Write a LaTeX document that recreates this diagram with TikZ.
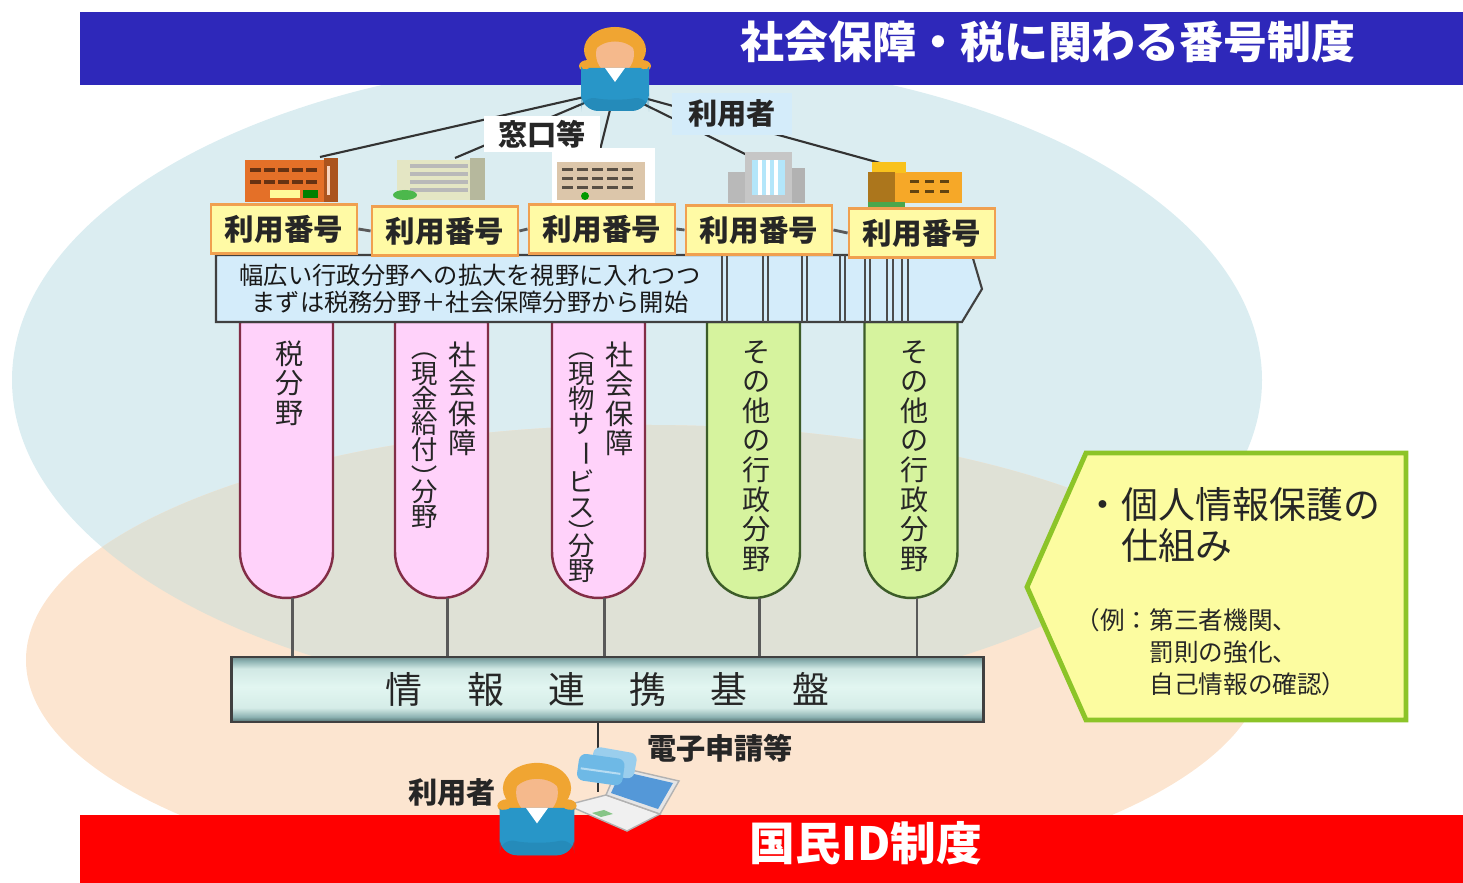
\documentclass[tikz,border=0pt]{standalone}
\usepackage{fontspec}
\setmainfont{Noto Sans CJK JP}
\usetikzlibrary{positioning, calc}

\definecolor{barblue}{RGB}{46,40,186}
\definecolor{barred}{RGB}{255,0,0}
\definecolor{skyfill}{RGB}{219,237,241}
\definecolor{peachfill}{RGB}{252,229,208}
\definecolor{mixfill}{RGB}{223,225,214}
\definecolor{numfill}{RGB}{255,250,165}
\definecolor{numedge}{RGB}{240,160,80}
\definecolor{bandfill}{RGB}{212,236,250}
\definecolor{pinkfill}{RGB}{255,210,250}
\definecolor{pinkedge}{RGB}{130,45,70}
\definecolor{leaffill}{RGB}{214,243,158}
\definecolor{leafedge}{RGB}{60,92,40}
\definecolor{notefill}{RGB}{252,252,160}
\definecolor{noteedge}{RGB}{140,196,40}
\definecolor{hubtop}{RGB}{140,178,178}
\definecolor{hubmid}{RGB}{226,246,241}
\definecolor{hubbot}{RGB}{80,110,110}
\definecolor{hair}{RGB}{240,165,50}
\definecolor{skin}{RGB}{245,185,140}
\definecolor{shirt}{RGB}{40,150,200}
\definecolor{brick}{RGB}{228,112,40}
\definecolor{stone}{RGB}{228,230,196}
\definecolor{sand}{RGB}{220,198,170}
\definecolor{amber}{RGB}{246,168,40}
\definecolor{cardblue}{RGB}{110,185,230}

\pgfdeclareverticalshading{hubshade}{100bp}{color(0bp)=(hubbot); color(25bp)=(hubbot);
  color(29bp)=(hubtop); color(36bp)=(hubmid!85!hubtop); color(52bp)=(hubmid);
  color(66bp)=(hubmid!80!hubtop); color(72bp)=(hubtop); color(75bp)=(hubtop!80!black); color(100bp)=(hubtop!80!black)}

\newcommand\vp[1]{\rotatebox[origin=c]{-90}{#1}}

\begin{document}
\begin{tikzpicture}[x=0.01cm, y=-0.01cm,
  every node/.style={inner sep=0pt, text=black!85},
  bar/.style  = {text=white, font=\bfseries\fontsize{12.5}{14}\selectfont},
  num/.style  = {draw=numedge, fill=numfill, line width=0.8pt, minimum width=1.46cm, minimum height=0.49cm, font=\bfseries\fontsize{8.4}{10}\selectfont},
  tag/.style  = {minimum height=0.36cm, font=\bfseries\fontsize{8.3}{10}\selectfont},
  hub/.style  = {draw=black!75, line width=0.8pt, minimum width=7.51cm, minimum height=0.65cm, shading=hubshade, font=\fontsize{10.5}{12}\selectfont},
  wire/.style = {line width=0.6pt, black!80},
  link/.style = {line width=0.8pt, gray!70!black},
  vcol/.style = {anchor=north, align=center, font=\fontsize{8}{8.4}\selectfont},
  vsub/.style = {anchor=north, align=center, font=\fontsize{7.5}{7.2}\selectfont},
  pinkpillar/.style = {fill=pinkfill, draw=pinkedge, line width=0.7pt},
  leafpillar/.style = {fill=leaffill, draw=leafedge, line width=0.7pt},
  user/.pic = {
    \fill[hair] (0,-18) ellipse [x radius=31, y radius=23];
    \fill[hair] (-27,-2) ellipse [x radius=9, y radius=6];
    \fill[hair] (27,-2) ellipse [x radius=9, y radius=6];
    \fill[skin] (0,-14) ellipse [x radius=19, y radius=21];
    \fill[hair] (-21,-16) .. controls (-22,-44) and (22,-44) .. (21,-16) .. controls (14,-30) and (-14,-30) .. (-21,-16);
    \fill[shirt, rounded corners=5] (-34,43) -- (-34,16) .. controls (-34,4) and (-22,0) .. (-9,0) -- (9,0) .. controls (22,0) and (34,4) .. (34,16) -- (34,43) -- cycle;
    \fill[shirt!80!black, opacity=.35, rounded corners=5] (-34,43) -- (-34,26) .. controls (-12,32) and (12,32) .. (34,26) -- (34,43) -- cycle;
    \fill[white] (-10,0) -- (10,0) -- (0,14) -- cycle;
  },
]
  \useasboundingbox (0,0) rectangle (1463,883);

  % two fields and their overlap
  \fill[skyfill] (637,380) ellipse [x radius=625, y radius=323];
  \fill[peachfill] (646,660) ellipse [x radius=620, y radius=235];
  \begin{scope}
    \clip (637,380) ellipse [x radius=625, y radius=323];
    \fill[mixfill] (646,660) ellipse [x radius=620, y radius=235];
  \end{scope}

  \fill[barblue] (80,12) rectangle (1463,85);
  \fill[barred] (80,815) rectangle (1463,883);
  \node[bar] (ttl) at (1048,42) {社会保障・税に関わる番号制度};
  \node[bar, font=\bfseries\fontsize{13}{15}\selectfont] (nid) at (866,843) {国民ID制度};

  % user and offices
  \coordinate (u1) at (615,90);
  \foreach \b/\x/\y in {1/320/157, 2/455/158, 3/600/150, 4/747/155, 5/880/163} {
    \coordinate (b\b) at (\x,\y);
    \draw[wire] (u1) -- (b\b);
  }
  \pic at (615,68) {user};
  \node[tag, fill=white, minimum width=1.15cm] (desk) at (542,134) {窓口等};
  \node[tag, fill=bandfill, minimum width=1.2cm, minimum height=0.42cm] (usr) at (732,114) {利用者};

  \fill[brick] (245,160) rectangle (336,202);
  \fill[brick!75!black] (324,158) rectangle (338,202);
  \fill[white!70!brick] (327,166) rectangle (330,195);
  \foreach \r in {168,180} \foreach \c in {250,264,278,292,306}
    \fill[brick!45!black] (\c,\r) rectangle +(11,4);
  \fill[yellow!40] (270,190) rectangle (300,198);
  \fill[green!50!black] (303,190) rectangle (318,198);

  \fill[stone] (397,160) rectangle (485,200);
  \fill[stone!80!black] (470,158) rectangle (485,200);
  \foreach \r in {166,174,182,190} \draw[gray!55, line width=1pt] (410,\r) -- (468,\r);
  \fill[green!60!black!70] (405,195) ellipse [x radius=12, y radius=5];

  \fill[white] (552,148) rectangle (655,205);
  \fill[sand] (557,162) rectangle (645,200);
  \foreach \r in {168,177,186} \foreach \c in {562,577,592,607,622}
    \fill[sand!40!black] (\c,\r) rectangle +(11,3);
  \fill[green!60!black] (585,196) circle [radius=4];

  \fill[gray!55] (728,172) rectangle (745,203);
  \fill[gray!45] (745,152) rectangle (792,203);
  \fill[cyan!30] (752,160) rectangle (785,195);
  \foreach \c in {760,768,776} \draw[white, line width=1pt] (\c,160) -- (\c,195);
  \fill[gray!60] (792,168) rectangle (805,203);

  \fill[amber] (868,172) rectangle (962,203);
  \fill[amber!70!yellow] (872,162) rectangle (906,173);
  \fill[amber!70!black] (868,172) rectangle (895,203);
  \foreach \r in {180,190} \foreach \c in {910,925,940}
    \fill[amber!40!black] (\c,\r) rectangle +(9,3);
  \fill[green!50!black!70] (868,202) rectangle (905,207);

  % fields
  \foreach \x/\n/\c in {286.5/1/pinkpillar, 441.5/2/pinkpillar, 598.5/3/pinkpillar, 753.5/4/leafpillar, 911/5/leafpillar} {
    \draw[\c] (\x-46.5,322) -- (\x-46.5,552) arc[start angle=180, end angle=0, x radius=46.5, y radius=46] -- (\x+46.5,322) -- cycle;
    \coordinate (p\n) at (\x+6,598);
  }
  \node[vcol] (f1) at (290,340) {税\\分\\野};
  \node[vcol] (f2a) at (463,341) {社\\会\\保\\障};
  \node[vsub] (f2b) at (425,334) {\vp{（}\\現\\金\\給\\付\\\vp{）}\\[-3.5pt]分\\野};
  \node[vcol] (f3a) at (620,341) {社\\会\\保\\障};
  \node[vsub] (f3b) at (582,334) {\vp{（}\\現\\物\\サ\\\vp{ー}\\ビ\\ス\\\vp{）}\\[-3.5pt]分\\野};
  \node[vcol] (f4) at (757,340) {そ\\の\\他\\の\\行\\政\\分\\野};
  \node[vcol] (f5) at (915,340) {そ\\の\\他\\の\\行\\政\\分\\野};

  % scope band
  \draw[fill=bandfill, draw=black!75, line width=0.6pt] (216,255) -- (972,255) -- (982,289) -- (962,322) -- (216,322) -- cycle;
  \foreach \x in {722,727,763,768,802,807,840,845,865,870,887,893,902,908}
    \draw[black!70, line width=0.5pt] (\x,255) -- (\x,322);
  \node[font=\fontsize{6.9}{7.7}\selectfont, align=center, text=black!90] (goal) at (470,289)
    {幅広い行政分野への拡大を視野に入れつつ\\まずは税務分野＋社会保障分野から開始};

  \foreach \n/\x/\y in {1/284/229, 2/445/231, 3/602/229, 4/759/230, 5/922/233}
    \node[num] (n\n) at (\x,\y) {利用番号};
  \foreach \a/\b in {1/2,2/3,3/4,4/5} \draw[link] (n\a.east) -- (n\b.west);

  % linkage platform
  \node[hub] (hub) at (607.5,689.5) {情\hspace{1.2em}報\hspace{1.2em}連\hspace{1.2em}携\hspace{1.2em}基\hspace{1.2em}盤};
  \foreach \n in {1,...,5} \draw[link] (p\n) -- (p\n |- hub.north);

  \draw[fill=notefill, draw=noteedge, line width=1.4pt] (1086,453) -- (1406,453) -- (1406,720) -- (1086,720) -- (1027,587) -- cycle;
  \node[anchor=north west, align=left, font=\fontsize{10.5}{11.7}\selectfont] (aim) at (1084,487) {・個人情報保護の\\\phantom{・}仕組み};
  \node[anchor=north west, align=left, font=\fontsize{7}{9}\selectfont] (eg) at (1075,608)
    {（例：第三者機関、\\\phantom{（例：}罰則の強化、\\\phantom{（例：}自己情報の確認）};

  % online access
  \coordinate (pc) at (598,792);
  \draw[wire] (pc |- hub.south) -- (pc);
  \draw[fill=gray!12, draw=gray!60, line width=0.4pt] (567,805) -- (606,795) -- (660,814) -- (627,831) -- cycle;
  \fill[green!35!gray!70] (592,813) -- (604,810) -- (613,814) -- (601,817) -- cycle;
  \draw[fill=gray!20, draw=gray!60, line width=0.4pt] (606,795) -- (618,767) -- (679,781) -- (660,814) -- cycle;
  \fill[cyan!60!blue!70] (611,793) -- (621,771) -- (673,783) -- (658,809) -- cycle;
  \fill[cardblue!70!white, rounded corners=2, rotate around={-10:(615,762)}] (592,750) rectangle (636,776);
  \fill[cardblue, rounded corners=2, rotate around={-8:(600,768)}] (578,756) rectangle (624,783);
  \fill[white, opacity=.5, rotate around={-8:(600,768)}] (581,770) rectangle (621,772);
  \pic[scale=1.1] at (537,808) {user};
  \node[tag] (me) at (452,793) {利用者};
  \node[tag] (eapp) at (720,748) {電子申請等};
\end{tikzpicture}
\end{document}
